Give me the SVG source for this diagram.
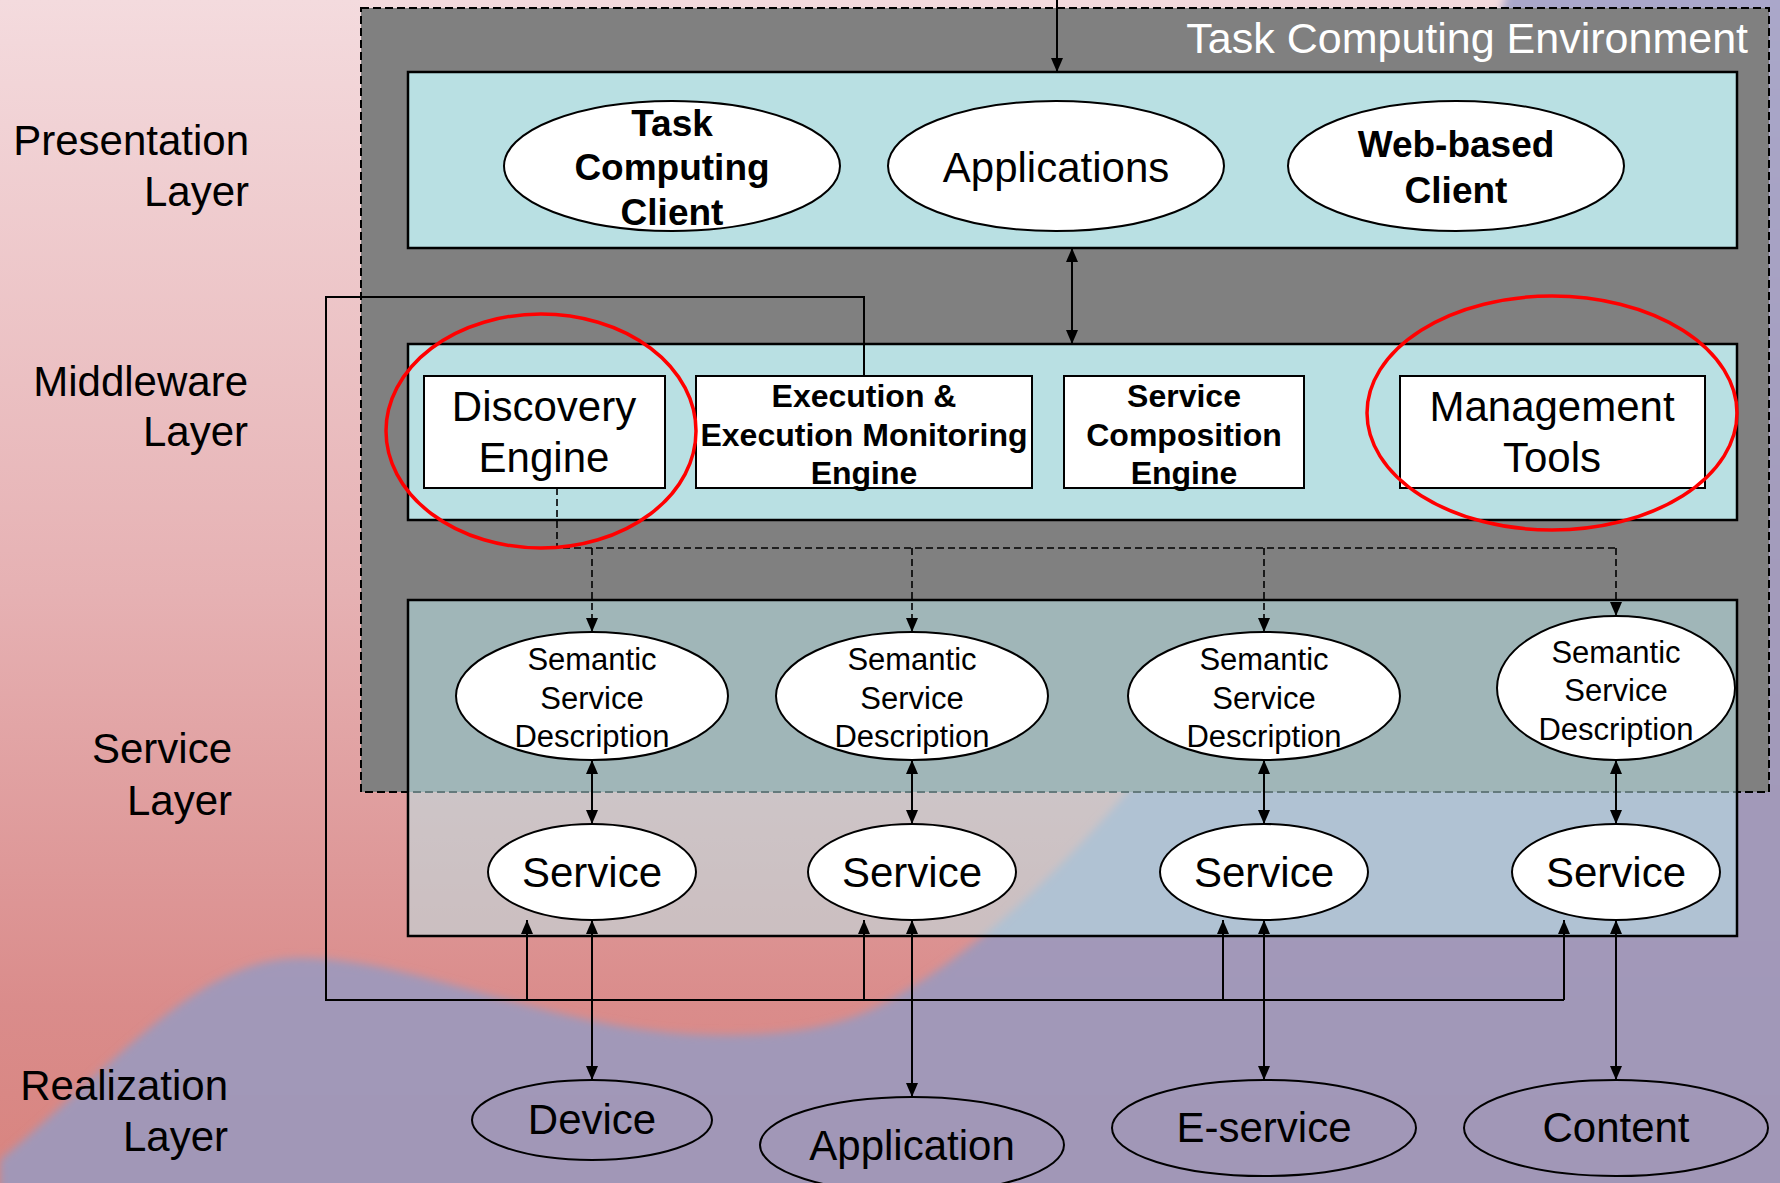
<svg xmlns="http://www.w3.org/2000/svg" width="1780" height="1183" viewBox="0 0 1780 1183">
  <defs>
    <linearGradient id="pinkBg" x1="0" y1="0" x2="0" y2="1">
      <stop offset="0" stop-color="#f4dbde"/>
      <stop offset="0.5" stop-color="#e6b1b3"/>
      <stop offset="0.85" stop-color="#da8c8b"/>
      <stop offset="1" stop-color="#d8847f"/>
    </linearGradient>
    <linearGradient id="purpleBg" x1="0" y1="0" x2="0" y2="1">
      <stop offset="0" stop-color="#aaa8ca"/>
      <stop offset="0.5" stop-color="#a39bbb"/>
      <stop offset="1" stop-color="#a197b7"/>
    </linearGradient>
    <filter id="soft" x="-5%" y="-5%" width="110%" height="110%">
      <feGaussianBlur stdDeviation="4"/>
    </filter>
    <marker id="arr" viewBox="0 0 14 12" markerUnits="userSpaceOnUse" markerWidth="14" markerHeight="12" refX="14" refY="6" orient="auto-start-reverse">
      <path d="M0,0 L14,6 L0,12 z" fill="#000"/>
    </marker>
    <style>
      text { font-family: "Liberation Sans", Arial, sans-serif; fill: #000; }
      .lbl { font-size: 42px; text-anchor: end; }
      .c { text-anchor: middle; }
      .big { font-size: 42px; }
      .bold37 { font-size: 37px; font-weight: bold; }
      .bold32 { font-size: 32px; font-weight: bold; }
      .ssd { font-size: 31px; }
      .node { fill: #fff; stroke: #000; stroke-width: 2; }
      .real { fill: none; stroke: #000; stroke-width: 2; }
      .panel { fill: #b9e0e3; stroke: #000; stroke-width: 2.5; }
      .wire { fill: none; stroke: #000; stroke-width: 2; }
      .dash { fill: none; stroke: #000; stroke-width: 1.6; stroke-dasharray: 7 4; }
      .halo { fill: none; stroke: #ff0000; stroke-width: 3.5; }
    </style>
  </defs>

  <!-- background: pink gradient with a purple wave -->
  <rect x="0" y="0" width="1780" height="1183" fill="url(#pinkBg)"/>
  <path d="M0,1160 C120,1060 200,958 300,958 C420,958 560,1035 720,1035 C790,1035 840,1028 890,1000 C980,950 1060,870 1127,792 C1300,590 1450,200 1510,-20 L1800,-20 L1800,1200 L0,1200 Z" fill="url(#purpleBg)" filter="url(#soft)"/>

  <!-- environment frame -->
  <g id="environment">
    <rect x="361" y="8" width="1408" height="784" fill="#808080" stroke="#000" stroke-width="2" stroke-dasharray="8 4"/>
    <text x="1748" y="53" font-size="43" style="fill:#fff; font-size:43px" text-anchor="end">Task Computing Environment</text>
  </g>

  <!-- layer panels -->
  <g id="presentation-panel"><rect class="panel" x="408" y="72" width="1329" height="176"/></g>
  <g id="middleware-panel"><rect class="panel" x="408" y="344" width="1329" height="176"/></g>
  <g id="service-panel"><rect x="408" y="600" width="1329" height="336" fill="#bce7eb" fill-opacity="0.53" stroke="#000" stroke-width="2.5"/></g>

  <!-- layer labels -->
  <g id="layer-labels">
    <text class="lbl" x="249" y="155">Presentation</text>
    <text class="lbl" x="249" y="206">Layer</text>
    <text class="lbl" x="248" y="396">Middleware</text>
    <text class="lbl" x="248" y="446">Layer</text>
    <text class="lbl" x="232" y="763">Service</text>
    <text class="lbl" x="232" y="815">Layer</text>
    <text class="lbl" x="228" y="1100">Realization</text>
    <text class="lbl" x="228" y="1151">Layer</text>
  </g>

  <!-- connectors -->
  <g id="connectors">
    <line class="wire" x1="1057" y1="0" x2="1057" y2="72" marker-end="url(#arr)"/>
    <line class="wire" x1="1072" y1="248" x2="1072" y2="344" marker-start="url(#arr)" marker-end="url(#arr)"/>

    <!-- discovery links -->
    <path class="dash" d="M557,488 V548 H1616"/>
    <line class="dash" x1="592" y1="548" x2="592" y2="632" marker-end="url(#arr)"/>
    <line class="dash" x1="912" y1="548" x2="912" y2="632" marker-end="url(#arr)"/>
    <line class="dash" x1="1264" y1="548" x2="1264" y2="632" marker-end="url(#arr)"/>
    <line class="dash" x1="1616" y1="548" x2="1616" y2="616" marker-end="url(#arr)"/>

    <!-- description to service -->
    <line class="wire" x1="592" y1="760" x2="592" y2="824" marker-start="url(#arr)" marker-end="url(#arr)"/>
    <line class="wire" x1="912" y1="760" x2="912" y2="824" marker-start="url(#arr)" marker-end="url(#arr)"/>
    <line class="wire" x1="1264" y1="760" x2="1264" y2="824" marker-start="url(#arr)" marker-end="url(#arr)"/>
    <line class="wire" x1="1616" y1="760" x2="1616" y2="824" marker-start="url(#arr)" marker-end="url(#arr)"/>

    <!-- service to realization -->
    <line class="wire" x1="592" y1="920" x2="592" y2="1080" marker-start="url(#arr)" marker-end="url(#arr)"/>
    <line class="wire" x1="912" y1="920" x2="912" y2="1097" marker-start="url(#arr)" marker-end="url(#arr)"/>
    <line class="wire" x1="1264" y1="920" x2="1264" y2="1080" marker-start="url(#arr)" marker-end="url(#arr)"/>
    <line class="wire" x1="1616" y1="920" x2="1616" y2="1080" marker-start="url(#arr)" marker-end="url(#arr)"/>

    <!-- execution loop -->
    <path class="wire" d="M864,376 V297 H326 V1000 H1564"/>
    <line class="wire" x1="527" y1="1000" x2="527" y2="920" marker-end="url(#arr)"/>
    <line class="wire" x1="864" y1="1000" x2="864" y2="920" marker-end="url(#arr)"/>
    <line class="wire" x1="1223" y1="1000" x2="1223" y2="920" marker-end="url(#arr)"/>
    <line class="wire" x1="1564" y1="1000" x2="1564" y2="920" marker-end="url(#arr)"/>
  </g>

  <!-- presentation nodes -->
  <g id="task-computing-client">
    <ellipse class="node" cx="672" cy="166" rx="168" ry="65"/>
    <text class="c bold37" x="672" y="136">Task</text>
    <text class="c bold37" x="672" y="180">Computing</text>
    <text class="c bold37" x="672" y="225">Client</text>
  </g>
  <g id="applications">
    <ellipse class="node" cx="1056" cy="166" rx="168" ry="65"/>
    <text class="c big" x="1056" y="182">Applications</text>
  </g>
  <g id="web-based-client">
    <ellipse class="node" cx="1456" cy="166" rx="168" ry="65"/>
    <text class="c bold37" x="1456" y="157">Web-based</text>
    <text class="c bold37" x="1456" y="203">Client</text>
  </g>

  <!-- middleware nodes -->
  <g id="discovery-engine">
    <rect class="node" x="424" y="376" width="241" height="112"/>
    <text class="c big" x="544" y="421">Discovery</text>
    <text class="c big" x="544" y="472">Engine</text>
  </g>
  <g id="execution-engine">
    <rect class="node" x="696" y="376" width="336" height="112"/>
    <text class="c bold32" x="864" y="407">Execution &amp;</text>
    <text class="c bold32" x="864" y="446">Execution Monitoring</text>
    <text class="c bold32" x="864" y="484">Engine</text>
  </g>
  <g id="composition-engine">
    <rect class="node" x="1064" y="376" width="240" height="112"/>
    <text class="c bold32" x="1184" y="407">Service</text>
    <text class="c bold32" x="1184" y="446">Composition</text>
    <text class="c bold32" x="1184" y="484">Engine</text>
  </g>
  <g id="management-tools">
    <rect class="node" x="1400" y="376" width="305" height="112"/>
    <text class="c big" x="1552" y="421">Management</text>
    <text class="c big" x="1552" y="472">Tools</text>
  </g>

  <!-- semantic service descriptions -->
  <g id="ssd-1">
    <ellipse class="node" cx="592" cy="696" rx="136" ry="64"/>
    <text class="c ssd" x="592" y="670">Semantic</text>
    <text class="c ssd" x="592" y="709">Service</text>
    <text class="c ssd" x="592" y="747">Description</text>
  </g>
  <g id="ssd-2">
    <ellipse class="node" cx="912" cy="696" rx="136" ry="64"/>
    <text class="c ssd" x="912" y="670">Semantic</text>
    <text class="c ssd" x="912" y="709">Service</text>
    <text class="c ssd" x="912" y="747">Description</text>
  </g>
  <g id="ssd-3">
    <ellipse class="node" cx="1264" cy="696" rx="136" ry="64"/>
    <text class="c ssd" x="1264" y="670">Semantic</text>
    <text class="c ssd" x="1264" y="709">Service</text>
    <text class="c ssd" x="1264" y="747">Description</text>
  </g>
  <g id="ssd-4">
    <ellipse class="node" cx="1616" cy="688" rx="119" ry="72"/>
    <text class="c ssd" x="1616" y="663">Semantic</text>
    <text class="c ssd" x="1616" y="701">Service</text>
    <text class="c ssd" x="1616" y="740">Description</text>
  </g>

  <!-- services -->
  <g id="service-1">
    <ellipse class="node" cx="592" cy="872" rx="104" ry="48"/>
    <text class="c big" x="592" y="887">Service</text>
  </g>
  <g id="service-2">
    <ellipse class="node" cx="912" cy="872" rx="104" ry="48"/>
    <text class="c big" x="912" y="887">Service</text>
  </g>
  <g id="service-3">
    <ellipse class="node" cx="1264" cy="872" rx="104" ry="48"/>
    <text class="c big" x="1264" y="887">Service</text>
  </g>
  <g id="service-4">
    <ellipse class="node" cx="1616" cy="872" rx="104" ry="48"/>
    <text class="c big" x="1616" y="887">Service</text>
  </g>

  <!-- realization nodes -->
  <g id="device">
    <ellipse class="real" cx="592" cy="1120" rx="120" ry="40"/>
    <text class="c big" x="592" y="1134">Device</text>
  </g>
  <g id="application">
    <ellipse class="real" cx="912" cy="1145" rx="152" ry="48"/>
    <text class="c big" x="912" y="1160">Application</text>
  </g>
  <g id="e-service">
    <ellipse class="real" cx="1264" cy="1128" rx="152" ry="48"/>
    <text class="c big" x="1264" y="1142">E-service</text>
  </g>
  <g id="content">
    <ellipse class="real" cx="1616" cy="1128" rx="152" ry="48"/>
    <text class="c big" x="1616" y="1142">Content</text>
  </g>

  <!-- highlight rings -->
  <g id="highlights">
    <ellipse class="halo" cx="541" cy="431" rx="155" ry="117"/>
    <ellipse class="halo" cx="1552" cy="413" rx="185" ry="117"/>
  </g>
</svg>
